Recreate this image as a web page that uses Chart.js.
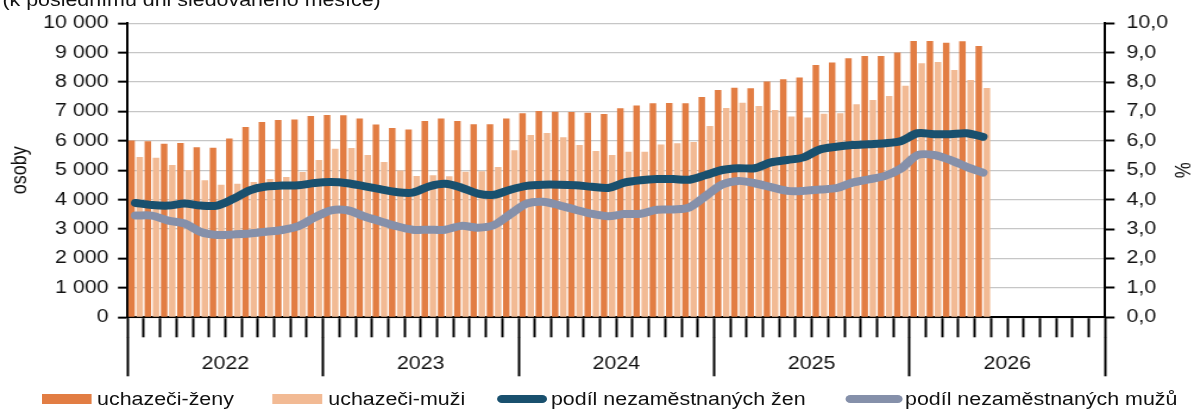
<!DOCTYPE html>
<html lang="cs">
<head>
<meta charset="utf-8">
<title>Uchazeči o zaměstnání a podíl nezaměstnaných osob</title>
<script src="https://cdn.jsdelivr.net/npm/chart.js@4.4.1/dist/chart.umd.min.js"></script>
<style>
  html, body { margin: 0; padding: 0; background: #fff; overflow: hidden; }
  /* the original picture is stretched sideways, so the whole stage is too */
  #stage { position: relative; width: 1004px; height: 410px; transform: scaleX(1.1892); transform-origin: 0 0;
           font-family: "Liberation Sans", Arial, sans-serif; color: #111; }
  #note { position: absolute; left: 2px; top: -9px; font-size: 18px; line-height: 18px; white-space: nowrap; }
  #chart { position: absolute; left: 0; top: 0; }
  .leg-text { position: absolute; top: 389px; font-size: 18px; line-height: 20px; white-space: nowrap; }
  .leg-swatch { position: absolute; }
</style>
</head>
<body>
<div id="stage">
  <div id="note">(k poslednímu dni sledovaného měsíce)</div>
  <canvas id="chart" width="1004" height="410"></canvas>
  <div id="legend"></div>
</div>
<script>
const years = ['2022', '2023', '2024', '2025', '2026'];
const monthNames = ['leden', 'únor', 'březen', 'duben', 'květen', 'červen',
  'červenec', 'srpen', 'září', 'říjen', 'listopad', 'prosinec'];
const months = years.flatMap(y => monthNames.map(m => m + ' ' + y));

// osoby, leden 2022 - květen 2026
const uchazeciZeny = [
  6010, 5990, 5900, 5930, 5780, 5770, 6080, 6470, 6640, 6710, 6730, 6850,
  6880, 6870, 6760, 6560, 6440, 6390, 6680, 6760, 6680, 6570, 6570, 6760,
  6940, 7020, 6995, 6985, 6960, 6915, 7110, 7200, 7280, 7290, 7280, 7490,
  7730, 7810, 7790, 8020, 8095, 8160, 8580, 8670, 8810, 8890, 8890, 9010,
  9400, 9400, 9340, 9390, 9230
];
const uchazeciMuzi = [
  5450, 5430, 5180, 5010, 4660, 4510, 4540, 4600, 4700, 4770, 4940, 5350,
  5730, 5760, 5520, 5280, 4990, 4810, 4830, 4800, 4950, 4970, 5110, 5680,
  6200, 6270, 6120, 5860, 5660, 5520, 5630, 5630, 5880, 5920, 5960, 6510,
  7120, 7300, 7190, 7050, 6830, 6800, 6920, 6940, 7250, 7390, 7530, 7880,
  8640, 8680, 8410, 8070, 7800
];
// %
const podilZen = [
  3.89, 3.82, 3.80, 3.87, 3.80, 3.80, 4.03, 4.32, 4.45, 4.48, 4.49, 4.57,
  4.60, 4.56, 4.46, 4.36, 4.26, 4.24, 4.45, 4.54, 4.41, 4.21, 4.17, 4.34,
  4.47, 4.51, 4.51, 4.49, 4.44, 4.40, 4.58, 4.66, 4.70, 4.70, 4.68, 4.84,
  5.01, 5.07, 5.07, 5.27, 5.35, 5.44, 5.71, 5.80, 5.86, 5.89, 5.92, 6.00,
  6.26, 6.23, 6.23, 6.26, 6.14
];
const podilMuzu = [
  3.46, 3.46, 3.29, 3.19, 2.90, 2.80, 2.82, 2.85, 2.91, 2.97, 3.10, 3.40,
  3.64, 3.64, 3.44, 3.27, 3.10, 2.98, 2.98, 2.98, 3.11, 3.05, 3.14, 3.51,
  3.87, 3.93, 3.81, 3.66, 3.52, 3.44, 3.51, 3.52, 3.66, 3.67, 3.74, 4.13,
  4.52, 4.64, 4.56, 4.43, 4.30, 4.30, 4.35, 4.39, 4.58, 4.69, 4.81, 5.07,
  5.52, 5.52, 5.35, 5.12, 4.92
];

const COLORS = ['#E27D43', '#F2BA94', '#19506E', '#8590AA'];
const FONT = { family: '"Liberation Sans", Arial, sans-serif', size: 18 };

Chart.defaults.font = FONT;
Chart.defaults.color = '#111';

const thousands = v => String(v).replace(/\B(?=(\d{3})+(?!\d))/g, ' ');

const chart = new Chart(document.getElementById('chart'), {
  data: {
    labels: months,
    datasets: [
      { type: 'bar', label: 'uchazeči-ženy', data: uchazeciZeny, backgroundColor: COLORS[0],
        yAxisID: 'y', order: 2, categoryPercentage: 1, barPercentage: 0.8 },
      { type: 'bar', label: 'uchazeči-muži', data: uchazeciMuzi, backgroundColor: COLORS[1],
        yAxisID: 'y', order: 2, categoryPercentage: 1, barPercentage: 0.8 },
      { type: 'line', label: 'podíl nezaměstnaných žen', data: podilZen, borderColor: COLORS[2],
        borderWidth: 8, pointRadius: 0, tension: 0.3, borderCapStyle: 'round', borderJoinStyle: 'round',
        yAxisID: 'y1', order: 1 },
      { type: 'line', label: 'podíl nezaměstnaných mužů', data: podilMuzu, borderColor: COLORS[3],
        borderWidth: 8, pointRadius: 0, tension: 0.3, borderCapStyle: 'round', borderJoinStyle: 'round',
        yAxisID: 'y1', order: 1 }
    ]
  },
  options: {
    responsive: false,
    animation: false,
    events: [],
    layout: { padding: { top: 23.3, bottom: 34.7 } },
    plugins: { legend: { display: false }, tooltip: { enabled: false } },
    scales: {
      x: {
        type: 'category',
        offset: true,
        grid: { offset: true, drawOnChartArea: false, tickLength: 20, tickColor: '#000', tickWidth: 2 },
        border: { color: '#000', width: 2 },
        ticks: { display: false }
      },
      // year band: long ticks between years, year names beside them
      x2: {
        type: 'category',
        position: 'bottom',
        labels: years,
        offset: true,
        grid: { offset: true, drawOnChartArea: false, tickLength: 39, tickColor: '#000', tickWidth: 2 },
        border: { display: false },
        ticks: { padding: -23, maxRotation: 0 },
        afterFit: s => { s.height = 38; }
      },
      y: {
        position: 'left',
        min: 0,
        max: 10000,
        ticks: { stepSize: 1000, padding: 8, callback: thousands },
        grid: { color: '#c6c6c6', lineWidth: 1.3, tickLength: 8, tickColor: '#000', tickWidth: 2 },
        border: { color: '#000', width: 2 },
        title: { display: true, text: 'osoby', padding: { top: 6, bottom: 0 } },
        afterFit: s => { s.width = 107.2; }
      },
      y1: {
        position: 'right',
        min: 0,
        max: 10,
        ticks: { stepSize: 1, padding: 10, callback: v => v.toFixed(1).replace('.', ',') },
        grid: { drawOnChartArea: false, tickLength: 8, tickColor: '#000', tickWidth: 2 },
        border: { color: '#000', width: 2 },
        title: { display: true, text: '%', padding: { top: 0, bottom: 0 } },
        afterFit: s => { s.width = 74.8; }
      }
    }
  }
});

// legend built from the chart's own datasets
const legendSlots = [
  { swatch: 35.3, width: 42, height: 10, radius: 0, text: 81.6 },
  { swatch: 228.5, width: 42, height: 10, radius: 0, text: 276.1 },
  { swatch: 417.7, width: 42, height: 8, radius: 4, text: 463.3 },
  { swatch: 710.6, width: 48, height: 8, radius: 4, text: 761 }
];
const legendEl = document.getElementById('legend');
chart.data.datasets.forEach((ds, i) => {
  const slot = legendSlots[i];
  const sw = document.createElement('div');
  sw.className = 'leg-swatch';
  sw.style.left = slot.swatch + 'px';
  sw.style.top = (399 - slot.height / 2) + 'px';
  sw.style.width = slot.width + 'px';
  sw.style.height = slot.height + 'px';
  sw.style.borderRadius = slot.radius + 'px';
  sw.style.background = ds.type === 'bar' ? ds.backgroundColor : ds.borderColor;
  legendEl.appendChild(sw);
  const tx = document.createElement('div');
  tx.className = 'leg-text';
  tx.style.left = slot.text + 'px';
  tx.textContent = ds.label;
  legendEl.appendChild(tx);
});
</script>
</body>
</html>
